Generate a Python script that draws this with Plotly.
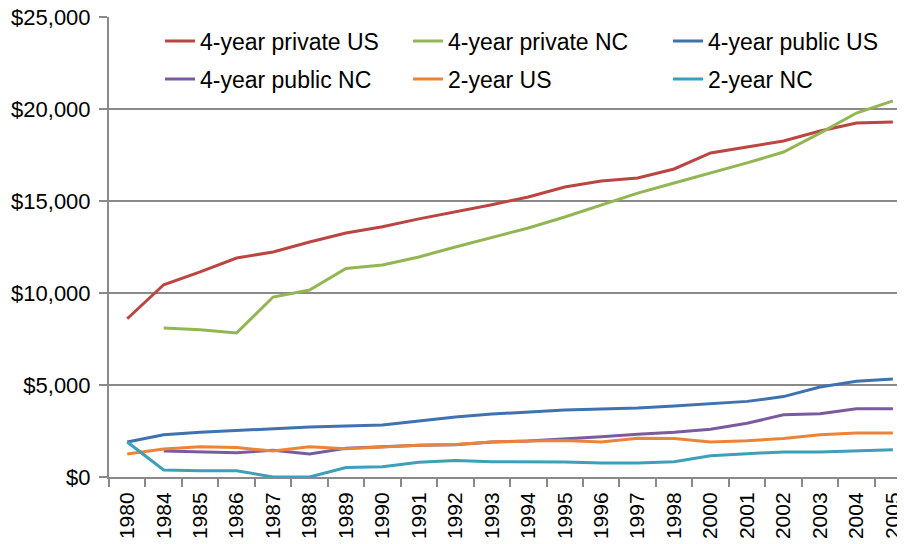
import plotly.graph_objects as go

years = ["1980", "1984", "1985", "1986", "1987", "1988", "1989", "1990", "1991", "1992",
         "1993", "1994", "1995", "1996", "1997", "1998", "2000", "2001", "2002", "2003",
         "2004", "2005"]

private_us = [8600, 10450, 11150, 11900, 12230, 12770, 13260, 13600, 14030, 14400,
              14800, 15220, 15760, 16090, 16250, 16740, 17610, 17940, 18260, 18800,
              19240, 19290]
private_nc = [None, 8100, 8000, 7830, 9780, 10160, 11330, 11520, 11960, 12500,
              13000, 13530, 14130, 14780, 15430, 15980, 16520, 17070, 17660, 18690,
              19780, 20440]
public_us = [1900, 2300, 2430, 2530, 2640, 2720, 2770, 2830, 3040, 3260,
             3420, 3530, 3640, 3700, 3750, 3860, 4000, 4110, 4370, 4890,
             5200, 5330]
public_nc = [None, 1410, 1380, 1320, 1450, 1250, 1560, 1650, 1720, 1750,
             1900, 1960, 2060, 2190, 2320, 2430, 2590, 2920, 3380, 3440,
             3710, 3710]
two_us = [1250, 1520, 1650, 1600, 1410, 1650, 1540, 1650, 1720, 1760,
          1900, 1950, 1980, 1900, 2110, 2090, 1900, 1970, 2090, 2300,
          2390, 2390]
two_nc = [1900, 380, 340, 340, 0, 0, 510, 560, 800, 890,
          830, 820, 820, 760, 760, 830, 1160, 1270, 1360, 1360,
          1410, 1480]

series = [
    ("4-year private US", private_us, "#BA4541"),
    ("4-year private NC", private_nc, "#93B552"),
    ("4-year public US", public_us, "#3F72AF"),
    ("4-year public NC", public_nc, "#7A5C9E"),
    ("2-year US", two_us, "#EB8438"),
    ("2-year NC", two_nc, "#3DA0B8"),
]

W, H = 905, 544
OFF = 8  # page offset of the figure (default body margin)
ML, MT, MB, MR = 101, 9, 75, 0
PW, PH = W - ML - MR, H - MT - MB
CAT_PX = 36.46  # pixel width of one category
x_hi = -0.5 + PW / CAT_PX

# legend text start x and row center y, in page pixels
leg_pos = [(200, 41), (448, 41), (708, 41), (200, 79), (448, 79), (708, 79)]

FONT = "Liberation Sans, Arial, Helvetica, sans-serif"
GRAY = "#8A8A8A"

fig = go.Figure()
layout_legends = {}
for i, (name, vals, col) in enumerate(series):
    key = "legend" if i == 0 else f"legend{i+1}"
    fig.add_trace(go.Scatter(
        x=years, y=vals, name=name, mode="lines",
        line=dict(color=col, width=3),
        legend=key,
    ))
    tx, ty = leg_pos[i]
    fx = tx - OFF - 40
    fy = ty - OFF
    layout_legends[key] = dict(
        x=(fx - ML) / PW, y=1 - (fy - MT) / PH, xref="paper", yref="paper",
        xanchor="left", yanchor="middle",
        bgcolor="rgba(0,0,0,0)", borderwidth=0,
        font=dict(family=FONT, size=23, color="#000000"),
    )

fig.update_layout(
    width=W, height=H,
    margin=dict(l=ML, r=MR, t=MT, b=MB, pad=0),
    paper_bgcolor="white", plot_bgcolor="white",
    font=dict(family=FONT, size=21, color="#000000"),
    showlegend=True,
    **layout_legends,
)

fig.update_xaxes(
    type="category", categoryorder="array", categoryarray=years,
    range=[-0.5, x_hi], automargin=False,
    tickangle=-90, tickson="boundaries", ticks="outside", ticklen=8,
    tickwidth=2, tickcolor=GRAY,
    showline=True, linecolor=GRAY, linewidth=2,
    showgrid=False, zeroline=False,
    ticklabelstandoff=5, ticklabeloverflow="allow",
    tickfont=dict(family=FONT, size=21, color="#000000"),
)
fig.update_yaxes(
    range=[0, 25000], dtick=5000, tickprefix="$", tickformat=",d",
    automargin=False,
    ticks="outside", ticklen=8, tickwidth=2, tickcolor=GRAY,
    showline=True, linecolor=GRAY, linewidth=2,
    showgrid=True, gridcolor=GRAY, gridwidth=2, zeroline=False,
    ticklabelstandoff=4, ticklabeloverflow="allow",
    tickfont=dict(family=FONT, size=22, color="#000000"),
)

fig.write_html("out.html")
